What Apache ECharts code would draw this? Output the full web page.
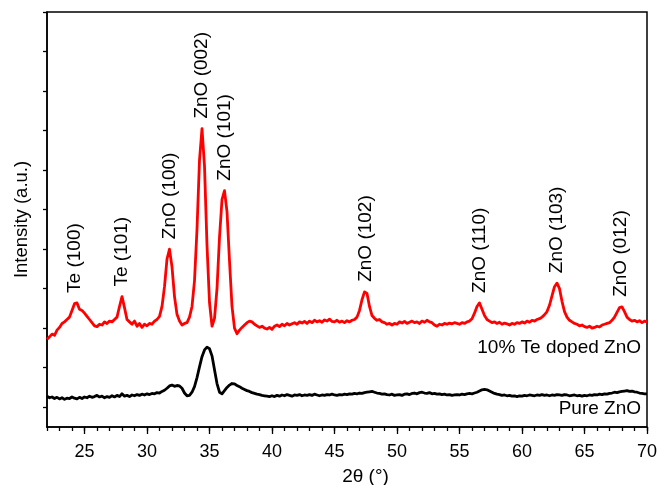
<!DOCTYPE html>
<html>
<head>
<meta charset="utf-8">
<script src="https://cdn.jsdelivr.net/npm/echarts@6/dist/echarts.min.js"></script>
<style>
html,body{margin:0;padding:0;background:#fff;}
#chart{width:657px;height:485px;}
</style>
</head>
<body>
<div id="chart"></div>
<script>
// 2θ sampling grid: 22.0° to 70.0° in 0.2° steps
const thetaStart = 22, thetaStep = 0.2, thetaCount = 241;

// 10% Te doped ZnO (offset trace, a.u.)
const dopedZnO = [
  2.22,2.28,2.35,2.32,2.45,2.52,2.62,2.66,2.72,2.78,
  2.95,3.12,3.14,2.98,2.95,2.88,2.80,2.72,2.64,2.56,
  2.54,2.60,2.58,2.66,2.62,2.68,2.66,2.72,2.78,3.05,
  3.30,3.02,2.72,2.66,2.60,2.68,2.55,2.62,2.52,2.60,
  2.56,2.62,2.60,2.68,2.72,2.80,3.05,3.55,4.25,4.50,
  4.05,3.30,2.85,2.68,2.58,2.62,2.64,2.78,3.05,3.70,
  5.00,6.75,7.55,6.60,4.60,3.15,2.55,2.75,3.50,4.80,
  5.75,5.98,5.45,4.20,3.05,2.50,2.36,2.45,2.52,2.58,
  2.64,2.68,2.66,2.60,2.56,2.52,2.55,2.50,2.48,2.52,
  2.47,2.55,2.58,2.54,2.60,2.56,2.62,2.58,2.61,2.64,
  2.60,2.66,2.63,2.67,2.62,2.68,2.64,2.70,2.66,2.69,
  2.65,2.71,2.68,2.73,2.67,2.66,2.70,2.65,2.68,2.64,
  2.69,2.66,2.70,2.72,2.78,2.95,3.22,3.42,3.38,3.05,
  2.82,2.75,2.70,2.72,2.66,2.64,2.60,2.62,2.58,2.62,
  2.60,2.66,2.63,2.67,2.62,2.65,2.68,2.64,2.66,2.62,
  2.68,2.65,2.70,2.66,2.64,2.58,2.55,2.60,2.58,2.62,
  2.60,2.63,2.61,2.64,2.62,2.60,2.64,2.62,2.66,2.68,
  2.74,2.88,3.05,3.14,2.98,2.82,2.72,2.68,2.64,2.66,
  2.62,2.65,2.60,2.63,2.61,2.58,2.62,2.60,2.64,2.62,
  2.66,2.63,2.68,2.65,2.70,2.68,2.72,2.74,2.78,2.84,
  2.92,3.08,3.32,3.55,3.64,3.50,3.18,2.92,2.78,2.70,
  2.66,2.62,2.60,2.56,2.58,2.54,2.52,2.55,2.50,2.52,
  2.55,2.53,2.58,2.60,2.62,2.64,2.70,2.78,2.90,3.02,
  3.04,2.92,2.78,2.72,2.68,2.70,2.66,2.69,2.64,2.68,
  2.66
];

// Pure ZnO (a.u.)
const pureZnO = [
  0.78,0.74,0.76,0.72,0.75,0.71,0.74,0.70,0.73,0.72,
  0.76,0.73,0.71,0.75,0.72,0.76,0.74,0.78,0.75,0.77,
  0.80,0.76,0.78,0.74,0.77,0.75,0.79,0.76,0.80,0.77,
  0.84,0.78,0.80,0.77,0.81,0.79,0.82,0.80,0.83,0.81,
  0.84,0.82,0.85,0.84,0.87,0.86,0.90,0.93,0.98,1.04,
  1.06,1.03,1.05,1.04,0.98,0.86,0.79,0.80,0.88,1.02,
  1.25,1.52,1.78,1.95,2.02,1.98,1.80,1.45,1.10,0.88,
  0.84,0.92,1.00,1.06,1.10,1.09,1.05,1.02,0.98,0.95,
  0.92,0.90,0.87,0.85,0.83,0.82,0.80,0.79,0.78,0.77,
  0.79,0.77,0.80,0.78,0.81,0.79,0.82,0.80,0.78,0.81,
  0.80,0.82,0.79,0.81,0.80,0.82,0.80,0.83,0.81,0.79,
  0.81,0.80,0.82,0.81,0.83,0.81,0.80,0.82,0.81,0.83,
  0.82,0.84,0.83,0.85,0.84,0.86,0.85,0.87,0.88,0.89,
  0.90,0.88,0.86,0.85,0.83,0.84,0.82,0.81,0.83,0.80,
  0.81,0.82,0.80,0.83,0.84,0.82,0.85,0.86,0.84,0.87,
  0.88,0.86,0.85,0.87,0.84,0.85,0.83,0.84,0.82,0.83,
  0.81,0.82,0.80,0.81,0.82,0.81,0.83,0.82,0.84,0.85,
  0.84,0.86,0.88,0.91,0.94,0.95,0.94,0.91,0.88,0.85,
  0.83,0.82,0.80,0.81,0.79,0.80,0.78,0.79,0.77,0.79,
  0.78,0.80,0.79,0.81,0.80,0.79,0.81,0.80,0.82,0.80,
  0.81,0.79,0.81,0.80,0.82,0.81,0.80,0.82,0.81,0.79,
  0.80,0.81,0.79,0.80,0.78,0.80,0.79,0.81,0.80,0.82,
  0.81,0.83,0.82,0.84,0.83,0.85,0.86,0.88,0.87,0.89,
  0.90,0.91,0.92,0.90,0.91,0.89,0.88,0.86,0.85,0.84,
  0.84
];

// Peak annotations
const peakNames  = ['Te (100)','Te (101)','ZnO (100)','ZnO (002)','ZnO (101)','ZnO (102)','ZnO (110)','ZnO (103)','ZnO (012)'];
const peakAngles = [24.2, 28.0, 31.8, 34.4, 36.2, 47.5, 56.6, 62.8, 67.9];
const peakHeights= [3.14, 3.30, 4.50, 7.55, 5.98, 3.42, 3.14, 3.64, 3.04];

// Trace names
const traceNames  = ['10% Te doped ZnO', 'Pure ZnO'];
const traceLabelY = [2.0, 0.46];

// Axis ticks
const xMajorTicks = [25,30,35,40,45,50,55,60,65,70];
const xMinorTicks = [];
for (let t = 22; t <= 70; t++) xMinorTicks.push(t);
const yTicks = [0.5,1.5,2.5,3.5,4.5,5.5,6.5,7.5,8.5,9.5,10.5];

const twoTheta = [];
for (let i = 0; i < thetaCount; i++) twoTheta.push(+(thetaStart + thetaStep * i).toFixed(1));

const FONT = '"Liberation Sans", Arial, Helvetica, sans-serif';
const chart = echarts.init(document.getElementById('chart'), null, {renderer: 'canvas'});

chart.setOption({
  animation: false,
  backgroundColor: '#fff',
  textStyle: {fontFamily: FONT},
  grid: {left: 47, right: 10, top: 12, bottom: 58, show: true, borderColor: '#000', borderWidth: 1.5,
         containLabel: false, outerBoundsMode: 'none'},
  xAxis: [{
    type: 'value', min: 22, max: 70, position: 'bottom',
    name: '2θ (°)', nameLocation: 'middle', nameGap: 40,
    nameTextStyle: {fontSize: 19, color: '#000', fontFamily: FONT, padding: [0, 0, 0, 37]},
    axisLine: {show: true, onZero: false, lineStyle: {color: '#000', width: 1.5}},
    axisTick: {show: true, inside: false, length: 4, customValues: xMinorTicks, lineStyle: {color: '#000', width: 1.3}},
    axisLabel: {show: true, customValues: xMajorTicks, fontSize: 18, color: '#000', margin: 16, fontFamily: FONT},
    splitLine: {show: false}
  }, {
    type: 'value', min: 22, max: 70, position: 'bottom',
    axisLine: {show: false},
    axisTick: {show: true, inside: false, length: 7, customValues: xMajorTicks, lineStyle: {color: '#000', width: 1.3}},
    axisLabel: {show: false},
    splitLine: {show: false}
  }],
  yAxis: {
    type: 'value', min: 0, max: 10.5,
    name: 'Intensity (a.u.)', nameLocation: 'middle', nameGap: 16, nameRotate: 90,
    nameTextStyle: {fontSize: 18.5, color: '#000', fontFamily: FONT},
    axisLine: {show: true, lineStyle: {color: '#000', width: 1.5}},
    axisTick: {show: true, inside: false, length: 4, customValues: yTicks, lineStyle: {color: '#000', width: 1.3}},
    axisLabel: {show: false},
    splitLine: {show: false}
  },
  series: [{
    name: traceNames[0], type: 'line', xAxisIndex: 0,
    data: twoTheta.map((x, i) => [x, dopedZnO[i]]),
    showSymbol: false, symbol: 'none',
    lineStyle: {color: '#ff0000', width: 2.8, join: 'round'}
  }, {
    name: traceNames[1], type: 'line', xAxisIndex: 0,
    data: twoTheta.map((x, i) => [x, pureZnO[i]]),
    showSymbol: false, symbol: 'none',
    lineStyle: {color: '#000000', width: 2.8, join: 'round'}
  }, {
    name: 'peaks', type: 'scatter', xAxisIndex: 0, symbolSize: 0, silent: true,
    itemStyle: {opacity: 1, color: '#000'},
    data: peakNames.map((n, i) => ({name: n, value: [peakAngles[i], peakHeights[i]]})),
    label: {show: true, formatter: '{b}', position: 'top', distance: 10, rotate: 90,
            align: 'left', verticalAlign: 'middle', fontSize: 19, color: '#000', fontFamily: FONT}
  }, {
    name: 'traceNames', type: 'scatter', xAxisIndex: 0, symbolSize: 0, silent: true,
    itemStyle: {opacity: 1, color: '#000'},
    data: traceNames.map((n, i) => ({name: n, value: [70, traceLabelY[i]]})),
    label: {show: true, formatter: '{b}', position: 'left', distance: 6,
            fontSize: 19, color: '#000', fontFamily: FONT}
  }]
});
</script>
</body>
</html>
